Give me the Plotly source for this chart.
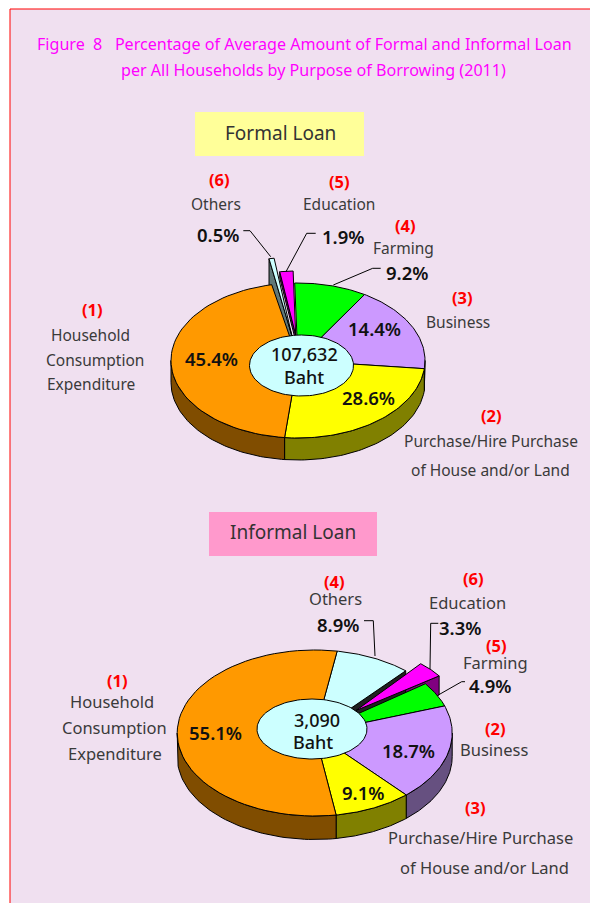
import math
import plotly.graph_objects as go

# ---- data ----
slice_colors = {"green": "#00FF00", "purple": "#CC99FF", "yellow": "#FFFF00", "orange": "#FF9900",
                "cyan": "#CCFFFF", "magenta": "#FF00FF"}
rim_colors = {"green": "#008000", "purple": "#665080", "yellow": "#808000", "orange": "#804D00",
              "cyan": "#607878", "magenta": "#800080"}

# Formal loan: share of the ring as drawn in the picture (clockwise from the start angle)
formal_names = ["green", "purple", "yellow", "orange"]
formal_drawn = [9.2, 17.9, 25.0, 45.0]
formal_labels = [9.2, 14.4, 28.6, 45.4, 0.5, 1.9]
formal_total = "107,632"

# Informal loan: clockwise from the start angle
informal_names = ["cyan", "gap", "green", "purple", "yellow", "orange"]
informal_values = [8.9, 3.3, 4.9, 18.7, 9.1, 55.1]
informal_total = "3,090"

TEXT = "#3A3A3A"
FONT = "Noto Sans"

fig = go.Figure()


def pt(p, ang):
    a = math.radians(ang)
    return p["cx"] + p["rx"] * math.sin(a), p["cy"] - p["ry"] * math.cos(a)


def arc(p, a0, a1, n=60):
    return [pt(p, a0 + (a1 - a0) * i / n) for i in range(n + 1)]


def poly(pts, fill, lw=1.0):
    fig.add_trace(go.Scatter(x=[q[0] for q in pts], y=[q[1] for q in pts], mode="lines",
                             fill="toself", fillcolor=fill, line=dict(color="black", width=lw),
                             hoverinfo="skip", showlegend=False))


def wedge(p, a0, a1, fill):
    poly([(p["cx"], p["cy"])] + arc(p, a0, a1) + [(p["cx"], p["cy"])], fill)


def rim(p, a0, a1, fill):
    lo, hi = max(a0, 90), min(a1, 270)
    if hi <= lo:
        return
    top = arc(p, lo, hi)
    bot = [(x, y + p["depth"]) for x, y in reversed(top)]
    poly(top + bot + [top[0]], fill)


def side(p, ang, fill):
    o = pt(p, ang)
    d = p["depth"]
    poly([(p["cx"], p["cy"]), o, (o[0], o[1] + d), (p["cx"], p["cy"] + d), (p["cx"], p["cy"])], fill)


def hole(cx, cy, rx, ry):
    poly(arc(dict(cx=cx, cy=cy, rx=rx, ry=ry), 0, 360, 120), "#CCFFFF")


# ---- formal pie ----
P1 = dict(cx=298, cy=360.5, rx=127, ry=77.5, depth=22)
cyan_f = dict(cx=291.7, cy=335, rx=128, ry=77.5, depth=26)
mag_f = dict(cx=295.7, cy=335, rx=105, ry=64, depth=6)
side(cyan_f, 349.8, rim_colors["cyan"])
side(mag_f, 351.25, rim_colors["magenta"])
a = -1.5
spans = []
for n, v in zip(formal_names, formal_drawn):
    spans.append((n, a, a + v * 3.6))
    a += v * 3.6
for n, a0, a1 in spans:
    rim(P1, a0, a1, rim_colors[n])
for n, a0, a1 in spans:
    wedge(P1, a0, a1, slice_colors[n])
wedge(cyan_f, 349.8, 352.1, slice_colors["cyan"])
wedge(mag_f, 351.25, 358.6, slice_colors["magenta"])
hole(301.5, 365.5, 52, 30.5)

# ---- informal pie ----
P2 = dict(cx=314.7, cy=733, rx=137.5, ry=83, depth=23.5)
mag_i = dict(cx=356, cy=710.5, rx=101, ry=60.9, depth=19)
side(mag_i, 55.4, rim_colors["magenta"])
a = 9.4
spans = []
for n, v in zip(informal_names, informal_values):
    spans.append((n, a, a + v * 3.6))
    a += v * 3.6
cyan_end = spans[0][2]
side(P2, cyan_end, "#202020")
for n, a0, a1 in spans:
    if n != "gap":
        rim(P2, a0, a1, rim_colors[n])
for n, a0, a1 in spans:
    if n != "gap":
        wedge(P2, a0, a1, slice_colors[n])
wedge(mag_i, 39.3, 55.4, slice_colors["magenta"])
hole(312, 729, 55, 30)

fig.update_layout(
    width=590, height=903, margin=dict(l=0, r=0, t=0, b=0),
    paper_bgcolor="white", plot_bgcolor="rgba(0,0,0,0)",
    xaxis=dict(range=[0, 590], visible=False, fixedrange=True),
    yaxis=dict(range=[903, 0], visible=False, fixedrange=True),
    showlegend=False,
)

# ---- frame and label boxes ----
shapes = [
    dict(type="rect", x0=10, y0=9, x1=620, y1=940, fillcolor="#F0E0F0", line=dict(color="#FF0000", width=1), layer="below"),
    dict(type="rect", x0=195, y0=112, x1=364, y1=156, fillcolor="#FFFF99", line=dict(width=0), layer="below"),
    dict(type="rect", x0=209, y0=512, x1=377, y1=556, fillcolor="#FF99CC", line=dict(width=0), layer="below"),
]
leaders = [
    [(243.3, 230.7), (250, 230.7), (270.7, 256.7)],
    [(315.7, 233.3), (306.7, 233.3), (286, 271.7)],
    [(380.7, 268.3), (372.7, 268.3), (333.3, 285)],
    [(364, 620.7), (373.3, 620.7), (375, 656)],
    [(438.3, 623.3), (430.7, 623.3), (430, 669)],
    [(465, 681.7), (461.7, 681.7), (438.3, 695)],
]
for L in leaders:
    for (x0, y0), (x1, y1) in zip(L, L[1:]):
        shapes.append(dict(type="line", x0=x0, y0=y0, x1=x1, y1=y1, line=dict(color="black", width=1)))
fig.update_layout(shapes=shapes)


def T(x, y, s, size=15, color=TEXT, weight=400):
    fig.add_annotation(x=x, y=y, text=s, showarrow=False,
                       xanchor="center", yanchor="middle",
                       font=dict(family=FONT, size=size, color=color, weight=weight))


def pct(v):
    return f"{v:.1f}%"


T(304, 44, "Figure&nbsp;&nbsp;8&nbsp;&nbsp;&nbsp;Percentage of Average Amount of Formal and Informal Loan", 16.1, "#FF00FF")
T(313, 70, "per All Households by Purpose of Borrowing (2011)", 16.1, "#FF00FF")
T(280, 133, "Formal Loan", 19, "#333333")
T(293, 532, "Informal Loan", 19, "#333333")

for x, y, s in [(219, 179, "(6)"), (339, 181, "(5)"), (405, 225, "(4)"), (462, 297, "(3)"), (491, 415, "(2)"), (92, 309, "(1)"),
                (334, 581, "(4)"), (473, 578, "(6)"), (496, 645, "(5)"), (495, 728, "(2)"), (475, 807, "(3)"), (117, 680, "(1)")]:
    T(x, y, s, 16.5, "#FF0000", 700)

for x, y, s in [(216, 204, "Others"), (339, 204, "Education"), (403, 248, "Farming"), (458, 322, "Business"),
                (491, 441, "Purchase/Hire Purchase"), (490, 470, "of House and/or Land"),
                (90, 335, "Household"), (95, 360, "Consumption"), (91, 384, "Expenditure")]:
    T(x, y, s, 15.5)
for x, y, s in [(335, 598, "Others"), (467, 602, "Education"), (495, 662, "Farming"), (494, 749, "Business"),
                (480, 837, "Purchase/Hire Purchase"), (484, 867, "of House and/or Land"),
                (112, 701, "Household"), (114, 727, "Consumption"), (115, 753, "Expenditure")]:
    T(x, y, s, 16.5)

fpos = [(407, 272), (374, 328), (368, 397), (211, 358), (218, 234), (343, 236)]
for (x, y), v in zip(fpos, formal_labels):
    T(x, y, pct(v), 18.5, "#111111", 600)
ipos = [(338, 624), (460, 627), (490, 685), (408, 750), (363, 792), (215, 732)]
for (x, y), v in zip(ipos, informal_values):
    T(x, y, pct(v), 18.5, "#111111", 600)

T(304, 354, formal_total, 18, "#111111", 500)
T(304, 377, "Baht", 18, "#111111", 500)
T(317, 720, informal_total, 18, "#111111", 500)
T(313, 742, "Baht", 18, "#111111", 500)

fig.write_html("out.html", config={"displayModeBar": False},
               post_script="document.body.style.margin='0';document.body.style.overflow='hidden';")
